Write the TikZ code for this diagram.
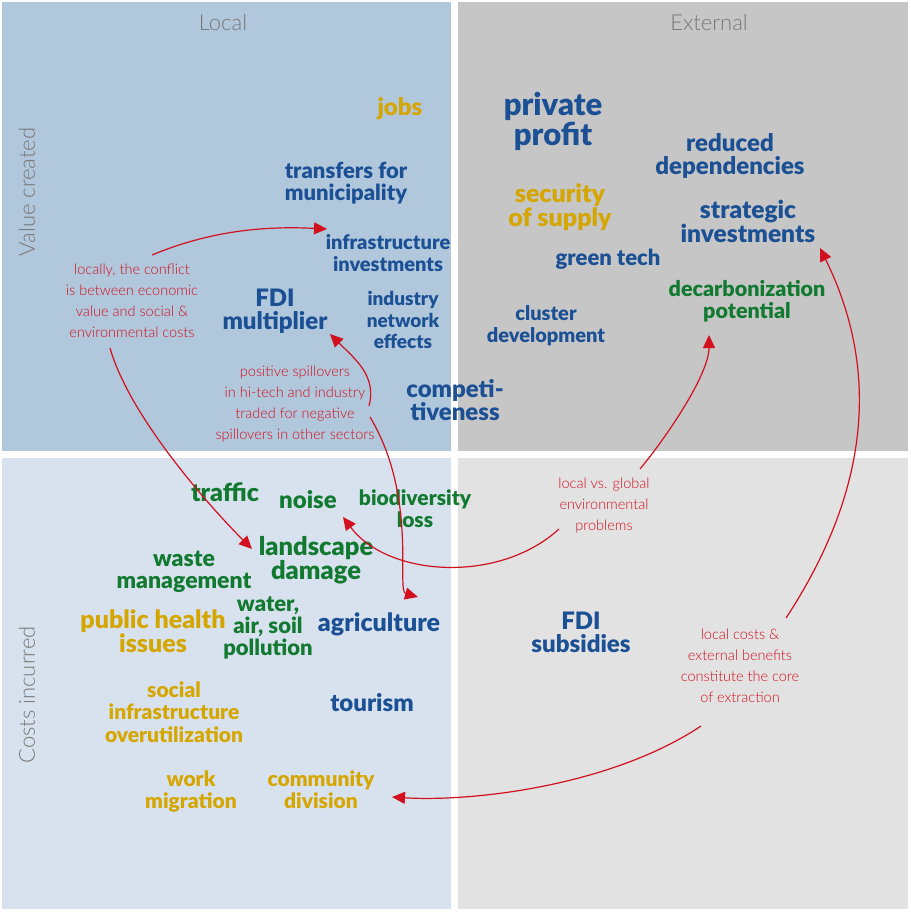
\documentclass[tikz,border=0pt]{standalone}
\usepackage{fontspec}
\setmainfont{Lato}
\newfontfamily\heavy{Lato Black}
\newfontfamily\thinfont{Lato Light}
\usetikzlibrary{arrows.meta,calc}

\definecolor{localbg}{HTML}{B1C7DC}
\definecolor{extbg}{HTML}{C6C6C6}
\definecolor{localcost}{HTML}{D8E2EE}
\definecolor{extcost}{HTML}{E2E2E2}
\definecolor{econblue}{HTML}{1B5095}
\definecolor{socgold}{HTML}{D6A600}
\definecolor{envgreen}{HTML}{127A30}
\definecolor{notered}{HTML}{D2101E}
\definecolor{axisgray}{HTML}{787878}

\tikzset{
  word/.style 2 args={font=\heavy\fontsize{#1}{#2}\selectfont, align=center, inner sep=0pt},
  econ/.style={text=econblue},
  soc/.style={text=socgold},
  env/.style={text=envgreen},
  note/.style={font=\thinfont\fontsize{14.5}{21}\selectfont, text=notered, align=center, inner sep=0pt},
  axislabel/.style={font=\thinfont\fontsize{22}{22}\selectfont, text=axisgray, inner sep=0pt},
  link/.style={draw=notered, line width=1.2pt, -{Triangle[length=13pt,width=12pt]}},
}

\begin{document}
\begin{tikzpicture}[x=1pt,y=-1pt]
        \useasboundingbox (0,0) rectangle (910,912);

        % draw quadrants
        \fill[white] (0,0) rectangle (910,912);
        \fill[localbg] (2,2) rectangle (451,451);
        \fill[extbg] (458,2) rectangle (908,451);
        \fill[localcost] (2,458) rectangle (451,909);
        \fill[extcost] (458,458) rectangle (908,909);

        % draw axis labels
        \node[axislabel] (local) at (223,23) {Local};
        \node[axislabel] (external) at (709,23) {External};
        \node[axislabel, rotate=90] (created) at (27,192) {Value created};
        \node[axislabel, rotate=90] (incurred) at (27,695) {Costs incurred};

        % value created, local
        \node[word={24}{22}, soc] (jobs) at (400,109) {jobs};
        \node[word={22}{22}, econ] (transfers) at (346,183) {transfers for\\municipality};
        \node[word={20}{22}, econ] (infra) at (388,253) {infrastructure\\investments};
        \node[word={24}{23}, econ] (fdimult) at (275,311) {FDI\\multiplier};
        \node[word={19}{21.5}, econ] (network) at (403,320) {industry\\network\\effects};
        \node[word={24}{23}, econ] (compet) at (455,400) {competi-\\tiveness};

        % value created, external
        \node[word={31}{30}, econ] (profit) at (553,121) {private\\profit};
        \node[word={24}{23}, econ] (reduced) at (730,156) {reduced\\dependencies};
        \node[word={25}{22}, soc] (security) at (560,207) {security\\of supply};
        \node[word={24.5}{22}, econ] (strategic) at (748,221) {strategic\\investments};
        \node[word={22}{22}, econ] (greentech) at (608,259) {green tech};
        \node[word={21.5}{22}, env] (decarb) at (747,301) {decarbonization\\potential};
        \node[word={20}{22}, econ] (cluster) at (546,326) {cluster\\development};

        % costs incurred, local
        \node[word={25}{22}, env] (traffic) at (225,492) {traffic};
        \node[word={24}{22}, env] (noise) at (308,500) {noise};
        \node[word={21}{22}, env] (biodiv) at (415,509) {biodiversity\\loss};
        \node[word={25.5}{22.5}, env] (landscape) at (316,560) {landscape\\damage};
        \node[word={23}{22}, env] (waste) at (184,572) {waste\\management};
        \node[word={25}{22}, soc] (health) at (153,631) {public health\\issues};
        \node[word={22}{22}, env] (pollution) at (268,628) {water,\\air, soil\\pollution};
        \node[word={25}{22}, econ] (agri) at (379,624) {agriculture};
        \node[word={21}{22.5}, soc] (overuse) at (174,712) {social\\infrastructure\\overutilization};
        \node[word={24}{22}, econ] (tourism) at (372,703) {tourism};
        \node[word={21}{22}, soc] (migration) at (191,792) {work\\migration};
        \node[word={21}{22}, soc] (community) at (321,790) {community\\division};

        % costs incurred, external
        \node[word={24}{23}, econ] (subsidies) at (581,632) {FDI\\subsidies};

        % draw notes
        \node[note] (conflict) at (132,301) {locally, the conflict\\is between economic\\value and social \&\\environmental costs};
        \node[note] (spill) at (295,404) {positive spillovers\\in hi-tech and industry\\traded for negative\\spillovers in other sectors};
        \node[note] (globalnote) at (604,505) {local vs. global\\environmental\\problems};
        \node[note] (extraction) at (740,666) {local costs \&\\external benefits\\constitute the core\\of extraction};

        % draw arrows
        \draw[link] ($(conflict)+(20,-46)$) .. controls +(60,-25) and +(-60,-3) .. ($(infra)+(-61,-24)$);
        \draw[link] ($(conflict)+(-22,47)$) .. controls +(20,70) and +(-40,-40) .. ($(landscape)+(-64,-11)$);
        \draw[link] ($(spill)+(74,2)$) .. controls +(8,-30) and +(25,25) .. ($(fdimult)+(55,23)$);
        \draw[link] ($(spill)+(75,13)$) .. controls +(48,80) and +(-22,-6) .. ($(agri)+(39,-27)$);
        \draw[link] ($(globalnote)+(-45,24)$) .. controls +(-60,55) and +(45,60) .. ($(noise)+(35,17)$);
        \draw[link] ($(globalnote)+(36,-36)$) .. controls +(25,-30) and +(0,40) .. ($(decarb)+(-38,34)$);
        \draw[link] ($(extraction)+(46,-48)$) .. controls +(84,-128) and +(60,122) .. ($(strategic)+(72,27)$);
        \draw[link] ($(extraction)+(-39,60)$) .. controls +(-90,60) and +(80,5) .. ($(community)+(71,7)$);
\end{tikzpicture}
\end{document}
